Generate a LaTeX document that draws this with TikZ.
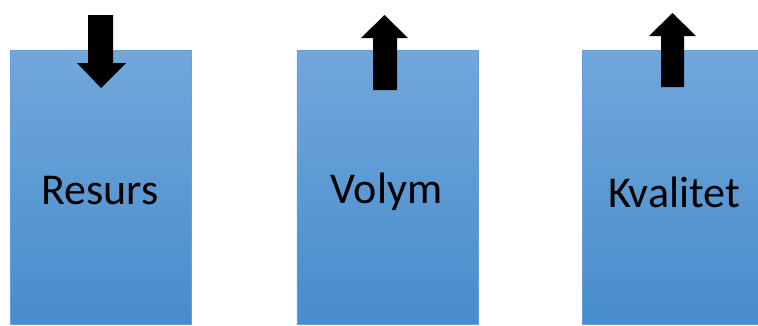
\documentclass[tikz,border=0pt]{standalone}
\usepackage{fontspec}
\setmainfont{Carlito}
\definecolor{boxtop}{RGB}{113,167,220}
\definecolor{boxbot}{RGB}{72,140,204}
\definecolor{boxline}{RGB}{100,160,220}
\begin{document}
\begin{tikzpicture}[x=1pt,y=-1pt,
  panel/.style={draw=boxline, line width=0.8pt, top color=boxtop, bottom color=boxbot, minimum width=181pt, minimum height=274pt, inner sep=0pt, anchor=north west},
  label/.style={font=\fontsize{44}{52}\selectfont, text=black, inner sep=0pt},
  blockarrow/.style={fill=black, draw=none}]
\useasboundingbox (0,0) rectangle (758,325);
\node[panel] (resurs) at (10,50) {};
\node[panel] (volym) at (296.5,50) {};
\node[panel] (kvalitet) at (582,50) {};
\node[label] (tresurs) at (100,191) {Resurs};
\node[label] (tvolym) at (386.5,192) {Volym};
\node[label] (tkvalitet) at (674,192) {Kvalitet};
% down arrow
\fill[blockarrow] (88,15) -- (113,15) -- (113,63) -- (126,63) -- (101,88) -- (77,63) -- (88,63) -- cycle;
% up arrows
\fill[blockarrow] (373,90) -- (397,90) -- (397,38) -- (408,38) -- (384.5,15) -- (361,38) -- (373,38) -- cycle;
\fill[blockarrow] (661,87) -- (684,87) -- (684,36) -- (696,36) -- (672.5,13) -- (649,36) -- (661,36) -- cycle;
\end{tikzpicture}
\end{document}
